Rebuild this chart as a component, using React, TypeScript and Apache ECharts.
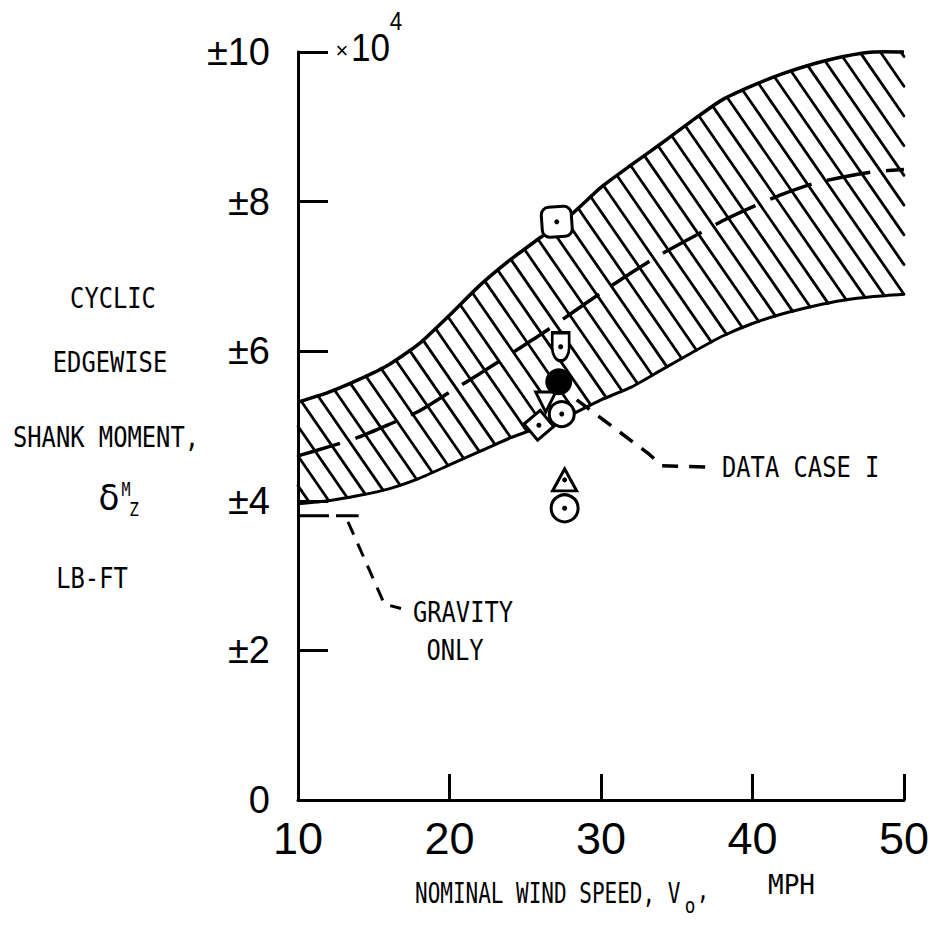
import React, { useEffect, useRef } from "react";
import * as echarts from "echarts";

// ---- data (wind speed in mph, moment in units of 1e4 lb-ft) ----
const windSpeed = [10, 12, 14, 16, 18, 20, 22, 24, 26, 28, 30, 32, 34, 36, 38, 40, 42, 44, 46, 48, 50];
const upperBound = [5.32, 5.45, 5.62, 5.82, 6.1, 6.48, 6.88, 7.22, 7.52, 7.82, 8.19, 8.49, 8.78, 9.08, 9.36, 9.55, 9.71, 9.84, 9.94, 10.0, 10.0];
const lowerBound = [3.96, 4.0, 4.07, 4.16, 4.3, 4.48, 4.66, 4.84, 4.99, 5.15, 5.35, 5.52, 5.75, 5.98, 6.2, 6.37, 6.5, 6.6, 6.68, 6.73, 6.76];
const meanLine = [4.6, 4.72, 4.85, 5.02, 5.2, 5.45, 5.7, 5.96, 6.22, 6.5, 6.78, 7.05, 7.3, 7.52, 7.74, 7.93, 8.1, 8.24, 8.33, 8.4, 8.43];

const gravityOnly = [[10, 3.8], [14, 3.8]];
const gravityLeader = [[13.3, 3.72], [15.7, 2.62], [16.8, 2.56]];
const dataCaseLeader = [[28.4, 5.35], [33.2, 4.62], [34.0, 4.47], [37.3, 4.45]];

const squarePt = [[27.08, 7.73]];
const shieldPt = [[27.34, 6.06]];
const filledCirclePt = [[27.21, 5.59]];
const downTrianglePt = [[26.35, 5.32]];
const ringPt = [[27.41, 5.16]];
const diamondPt = [[25.9, 5.01]];
const upTrianglePt = [[27.6, 4.28]];
const lowRingPt = [[27.6, 3.9]];

const xTicks = [10, 20, 30, 40, 50];
const yTickLabels = ["0", "±2", "±4", "±6", "±8", "±10"];

const LET = "'DejaVu Sans Mono', monospace";
const NUM = "'Liberation Sans', 'DejaVu Sans Condensed', sans-serif";

function txt(text: string, x: number, y: number, size = 29, sx = 0.82, align = "center", family = LET) {
  return {
    type: "text",
    x,
    y,
    scaleX: sx,
    z: 20,
    style: {
      text,
      fontFamily: family,
      fontSize: size,
      fill: "#000",
      align,
      verticalAlign: "middle",
      textAlign: align,
      textVerticalAlign: "middle",
    },
  };
}

export default function App() {
  const ref = useRef<HTMLDivElement>(null);
  useEffect(() => {
    const chart = echarts.init(ref.current!, null, { renderer: "svg" });
    const stroke = { color: "#fff", borderColor: "#000", borderWidth: 3, opacity: 1 };
    const markerSeries = (data: number[][], symbol: string, size: any, style: any, rotate = 0, z = 5) => ({
      type: "scatter",
      data,
      symbol,
      symbolSize: size,
      symbolRotate: rotate,
      symbolKeepAspect: true,
      itemStyle: { opacity: 1, ...style },
      z,
      silent: true,
    });
    const dots = [...squarePt, ...shieldPt, ...ringPt, ...diamondPt, ...upTrianglePt, ...lowRingPt];

    chart.setOption({
      animation: false,
      backgroundColor: "#fff",
      grid: { left: 298, right: 25, top: 52, bottom: 132 },
      xAxis: {
        type: "value",
        min: 10,
        max: 50,
        interval: 10,
        axisLine: { lineStyle: { color: "#000", width: 3 } },
        axisTick: { inside: true, length: 26, lineStyle: { color: "#000", width: 3 } },
        axisLabel: {
          color: "#000",
          fontSize: 45,
          fontFamily: NUM,
          margin: 16,
          formatter: (v: number) => (xTicks.includes(v) ? String(v) : ""),
        },
        splitLine: { show: false },
      },
      yAxis: {
        type: "value",
        min: 0,
        max: 10,
        interval: 2,
        axisLine: { lineStyle: { color: "#000", width: 3 } },
        axisTick: { inside: true, length: 30, lineStyle: { color: "#000", width: 3 } },
        axisLabel: {
          color: "#000",
          fontSize: 38,
          fontFamily: NUM,
          margin: 28,
          formatter: (v: number) => yTickLabels[Math.round(v / 2)] ?? "",
        },
        splitLine: { show: false },
      },
      series: [
        {
          type: "custom",
          data: [[10, 5]],
          clip: false,
          z: 1,
          silent: true,
          renderItem: (_params: any, api: any) => {
            const up = windSpeed.map((x, i) => api.coord([x, upperBound[i]]));
            const lo = windSpeed.map((x, i) => api.coord([x, lowerBound[i]]));
            const poly = up.concat(lo.slice().reverse());
            const k = 1.45;
            const s = 20.5;
            const uOf = (p: number[]) => p[0] - p[1] / k;
            let umin = Infinity;
            let umax = -Infinity;
            poly.forEach((p: number[]) => {
              const u = uOf(p);
              umin = Math.min(umin, u);
              umax = Math.max(umax, u);
            });
            const children: any[] = [];
            for (let c = Math.ceil(umin / s) * s + 4; c <= umax; c += s) {
              const pts: number[][] = [];
              for (let i = 0; i < poly.length; i++) {
                const a = poly[i];
                const b = poly[(i + 1) % poly.length];
                const ua = uOf(a) - c;
                const ub = uOf(b) - c;
                if (ua < 0 !== ub < 0) {
                  const t = ua / (ua - ub);
                  pts.push([a[0] + t * (b[0] - a[0]), a[1] + t * (b[1] - a[1])]);
                }
              }
              pts.sort((p, q) => p[1] - q[1]);
              for (let j = 0; j + 1 < pts.length; j += 2) {
                children.push({
                  type: "line",
                  shape: { x1: pts[j][0], y1: pts[j][1], x2: pts[j + 1][0], y2: pts[j + 1][1] },
                  style: { stroke: "#000", lineWidth: 2.8, lineCap: "round" },
                });
              }
            }
            children.push({ type: "polyline", shape: { points: up, smooth: 0.2 }, style: { stroke: "#000", lineWidth: 3.5, fill: null } });
            children.push({ type: "polyline", shape: { points: lo, smooth: 0.2 }, style: { stroke: "#000", lineWidth: 3, fill: null } });
            return { type: "group", children };
          },
        },
        {
          type: "line",
          data: windSpeed.map((x, i) => [x, meanLine[i]]),
          symbol: "none",
          smooth: 0.2,
          z: 2,
          lineStyle: { color: "#000", width: 3.5, type: [44, 16] },
          silent: true,
        },
        {
          type: "line",
          data: gravityOnly,
          symbol: "none",
          z: 2,
          lineStyle: { color: "#000", width: 3, type: [31, 7] },
          silent: true,
        },
        {
          type: "line",
          data: gravityLeader,
          symbol: "none",
          z: 2,
          lineStyle: { color: "#000", width: 3, type: [14, 10] },
          silent: true,
        },
        {
          type: "line",
          data: dataCaseLeader,
          symbol: "none",
          z: 2,
          lineStyle: { color: "#000", width: 3.5, type: [16, 11] },
          silent: true,
        },
        markerSeries(diamondPt, "rect", 21, stroke, 40),
        markerSeries(ringPt, "circle", 25, stroke),
        markerSeries(downTrianglePt, "triangle", [20, 20], stroke, 180),
        markerSeries(filledCirclePt, "circle", 27, { color: "#000" }),
        markerSeries(
          shieldPt,
          "path://M0,0 L20,0 L20,14 C20,20 16,26 10,26 C4,26 0,20 0,14 Z",
          [22, 28],
          stroke
        ),
        markerSeries(squarePt, "roundRect", 30, stroke, 4),
        markerSeries(upTrianglePt, "triangle", [24, 22], stroke),
        markerSeries(lowRingPt, "circle", 27, stroke),
        markerSeries(dots, "circle", 5, { color: "#000" }, 0, 8),
      ],
      graphic: [
        txt("×", 342, 50, 22, 1, "center", NUM),
        txt("10", 351, 47, 39, 0.9, "left", NUM),
        txt("4", 396, 21, 25, 0.9, "center", NUM),
        txt("CYCLIC", 113, 298),
        txt("EDGEWISE", 110, 362),
        txt("SHANK MOMENT,", 106, 437),
        txt("δ", 109, 497, 36, 0.95, "center", "'DejaVu Sans', sans-serif"),
        txt("M", 126, 489, 20, 0.75),
        txt("Z", 134, 509, 20, 0.8),
        txt("LB-FT", 92, 578),
        txt("GRAVITY", 463, 612),
        txt("ONLY", 455, 650),
        txt("DATA CASE I", 722, 467, 29, 0.82, "left"),
        txt("NOMINAL WIND SPEED, V", 415, 893, 28, 0.75, "left"),
        txt("o", 690, 906, 22, 0.8),
        txt(",", 703, 890, 26, 0.8),
        txt("MPH", 768, 885, 26, 1.0, "left"),
      ],
    });
    return () => chart.dispose();
  }, []);
  return <div ref={ref} style={{ position: "fixed", left: 0, top: 0, width: 932, height: 932, background: "#fff" }} />;
}
